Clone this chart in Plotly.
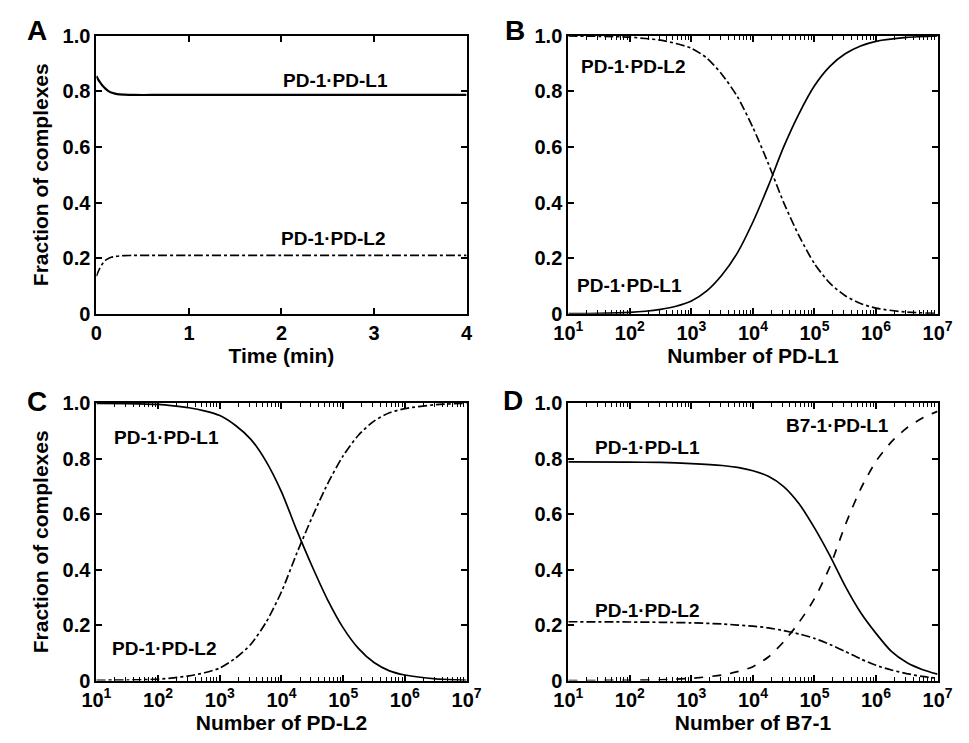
import plotly.graph_objects as go

# ---------------- data ----------------
# Panel A: time course
time_min = [0, 0.02, 0.04, 0.06, 0.08, 0.1, 0.13, 0.16, 0.2, 0.25, 0.3, 0.4, 0.6, 1, 2, 3, 4]
a_pdl1 = [0.855, 0.842, 0.832, 0.823, 0.816, 0.809, 0.801, 0.796, 0.792, 0.789, 0.788, 0.787, 0.787, 0.787, 0.787, 0.787, 0.787]
a_pdl2 = [0.135, 0.152, 0.166, 0.177, 0.186, 0.193, 0.199, 0.203, 0.206, 0.208, 0.209, 0.21, 0.21, 0.21, 0.21, 0.21, 0.21]

# Panels B, C: number of ligand (log scale)
n_bc = [10, 32, 100, 178, 316, 562, 1000, 1780, 3160, 5620, 10000, 17800, 31600, 56200,
        100000, 178000, 316000, 562000, 1000000, 3160000, 10000000]
b_pdl1 = [0.0005, 0.0015, 0.005, 0.009, 0.016, 0.027, 0.046, 0.082, 0.14, 0.22, 0.33, 0.46, 0.60,
          0.72, 0.82, 0.89, 0.935, 0.963, 0.98, 0.994, 0.999]
b_pdl2 = [0.999, 0.998, 0.995, 0.99, 0.984, 0.972, 0.955, 0.92, 0.86, 0.78, 0.67, 0.54, 0.40,
          0.28, 0.18, 0.11, 0.065, 0.037, 0.02, 0.006, 0.001]
c_pdl1 = [0.999, 0.998, 0.995, 0.99, 0.983, 0.972, 0.955, 0.92, 0.87, 0.79, 0.68, 0.54, 0.41,
          0.29, 0.19, 0.115, 0.065, 0.035, 0.02, 0.006, 0.001]
c_pdl2 = [0.001, 0.002, 0.005, 0.01, 0.017, 0.028, 0.045, 0.08, 0.13, 0.21, 0.32, 0.46, 0.59,
          0.71, 0.81, 0.885, 0.935, 0.965, 0.98, 0.994, 0.999]

# Panel D: number of B7-1
n_d = [10, 100, 316, 1000, 3160, 5620, 10000, 17800, 31600, 56200, 100000, 178000, 316000,
       562000, 1000000, 1780000, 3160000, 5620000, 10000000]
d_pdl1 = [0.788, 0.787, 0.786, 0.782, 0.775, 0.768, 0.756, 0.736, 0.699, 0.637, 0.55, 0.45, 0.34,
          0.245, 0.17, 0.105, 0.065, 0.04, 0.023]
d_pdl2 = [0.212, 0.211, 0.21, 0.208, 0.204, 0.2, 0.196, 0.19, 0.18, 0.168, 0.152, 0.13, 0.105,
          0.078, 0.055, 0.038, 0.025, 0.015, 0.008]
d_b71 = [0.0, 0.001, 0.003, 0.008, 0.02, 0.032, 0.05, 0.085, 0.14, 0.21, 0.295, 0.41, 0.56,
         0.69, 0.79, 0.86, 0.91, 0.945, 0.97]

y_tickvals = [0, 0.2, 0.4, 0.6, 0.8, 1.0]
y_ticktext = ["0", "0.2", "0.4", "0.6", "0.8", "1.0"]
t_tickvals = [0, 1, 2, 3, 4]
log_tickvals = [10, 100, 1000, 10000, 100000, 1000000, 10000000]
log_ticktext = ["10<sup>1</sup>", "10<sup>2</sup>", "10<sup>3</sup>", "10<sup>4</sup>",
                "10<sup>5</sup>", "10<sup>6</sup>", "10<sup>7</sup>"]
log_minorvals = [m * d for d in log_tickvals[:-1] for m in range(2, 10)]

FONT = "Liberation Sans, Arial, Helvetica, sans-serif"
BLACK = "#000000"

fig = go.Figure()

def line(x, y, xa, ya, dash, width=1.7):
    fig.add_trace(go.Scatter(x=x, y=y, xaxis=xa, yaxis=ya, mode="lines",
                             line=dict(color=BLACK, width=width, dash=dash, shape="spline", smoothing=0.7),
                             showlegend=False, hoverinfo="skip"))

line(time_min, a_pdl1, "x", "y", "solid", 2.2)
line(time_min, a_pdl2, "x", "y", "dashdot", 1.6)
line(n_bc, b_pdl1, "x2", "y2", "solid")
line(n_bc, b_pdl2, "x2", "y2", "dashdot")
line(n_bc, c_pdl1, "x3", "y3", "solid")
line(n_bc, c_pdl2, "x3", "y3", "dashdot")
line(n_d, d_pdl1, "x4", "y4", "solid")
line(n_d, d_pdl2, "x4", "y4", "dashdot")
line(n_d, d_b71, "x4", "y4", "dash")

xdomL = [84 / 969, 466 / 969]
xdomR = [571 / 969, 952 / 969]
ydomT = [1 - 312 / 743, 1 - 25.5 / 743]
ydomB = [1 - 690 / 743, 1 - 404 / 743]

tickfont = dict(family=FONT, size=20, color=BLACK, weight="bold")
titlefont = dict(family=FONT, size=21, color=BLACK, weight="bold")

common = dict(showline=True, linecolor=BLACK, linewidth=2, mirror="ticks",
              ticks="inside", ticklen=6, tickwidth=1.5, tickcolor=BLACK,
              showgrid=False, zeroline=False, tickfont=tickfont)

def yax(dom, anchor, title):
    d = dict(common, domain=dom, anchor=anchor, range=[0, 1.0],
             tickmode="array", tickvals=y_tickvals, ticktext=y_ticktext)
    if title:
        d["title"] = dict(text="Fraction of complexes", font=titlefont, standoff=8)
    return d

def logx(dom, anchor, title):
    return dict(common, domain=dom, anchor=anchor, type="log", range=[1, 7],
                tickmode="array", tickvals=log_tickvals, ticktext=log_ticktext,
                minor=dict(tickmode="array", tickvals=log_minorvals, ticks="inside",
                           ticklen=4, tickwidth=1, tickcolor=BLACK, showgrid=False),
                title=dict(text=title, font=titlefont, standoff=4))

fig.update_layout(
    width=969, height=743, autosize=False,
    margin=dict(l=0, r=0, t=0, b=0),
    paper_bgcolor="white", plot_bgcolor="white",
    font=dict(family=FONT, color=BLACK),
    xaxis=dict(common, domain=xdomL, anchor="y", range=[0, 4],
               tickmode="array", tickvals=t_tickvals,
               title=dict(text="Time (min)", font=titlefont, standoff=4)),
    yaxis=yax(ydomT, "x", True),
    xaxis2=logx(xdomR, "y2", "Number of PD-L1"),
    yaxis2=yax(ydomT, "x2", False),
    xaxis3=logx(xdomL, "y3", "Number of PD-L2"),
    yaxis3=yax(ydomB, "x3", True),
    xaxis4=logx(xdomR, "y4", "Number of B7-1"),
    yaxis4=yax(ydomB, "x4", False),
)

afont = dict(family=FONT, size=19, color=BLACK, weight="bold")

def lab(text, x, y, xr, yr):
    fig.add_annotation(text=text, x=x, y=y, xref=xr, yref=yr, showarrow=False, font=afont)

lab("PD-1·PD-L1", 2.58, 0.839, "x", "y")
lab("PD-1·PD-L2", 2.56, 0.27, "x", "y")
lab("PD-1·PD-L2", 2.06, 0.891, "x2", "y2")
lab("PD-1·PD-L1", 2.0, 0.10, "x2", "y2")
lab("PD-1·PD-L1", 2.14, 0.875, "x3", "y3")
lab("PD-1·PD-L2", 2.10, 0.115, "x3", "y3")
lab("PD-1·PD-L1", 2.28, 0.841, "x4", "y4")
lab("PD-1·PD-L2", 2.28, 0.254, "x4", "y4")
lab("B7-1·PD-L1", 5.38, 0.92, "x4", "y4")

pfont = dict(family=FONT, size=28, color=BLACK, weight="bold")
for letter, px, py in [("A", 23, 20), ("B", 516, 20), ("C", 23, 402), ("D", 514, 401)]:
    fig.add_annotation(text=letter, x=px / 969, y=1 - py / 743, xref="paper", yref="paper",
                       showarrow=False, font=pfont, xanchor="center", yanchor="middle")

fig.write_html("out.html", config={"displayModeBar": False},
               post_script="document.body.style.margin='0';")
